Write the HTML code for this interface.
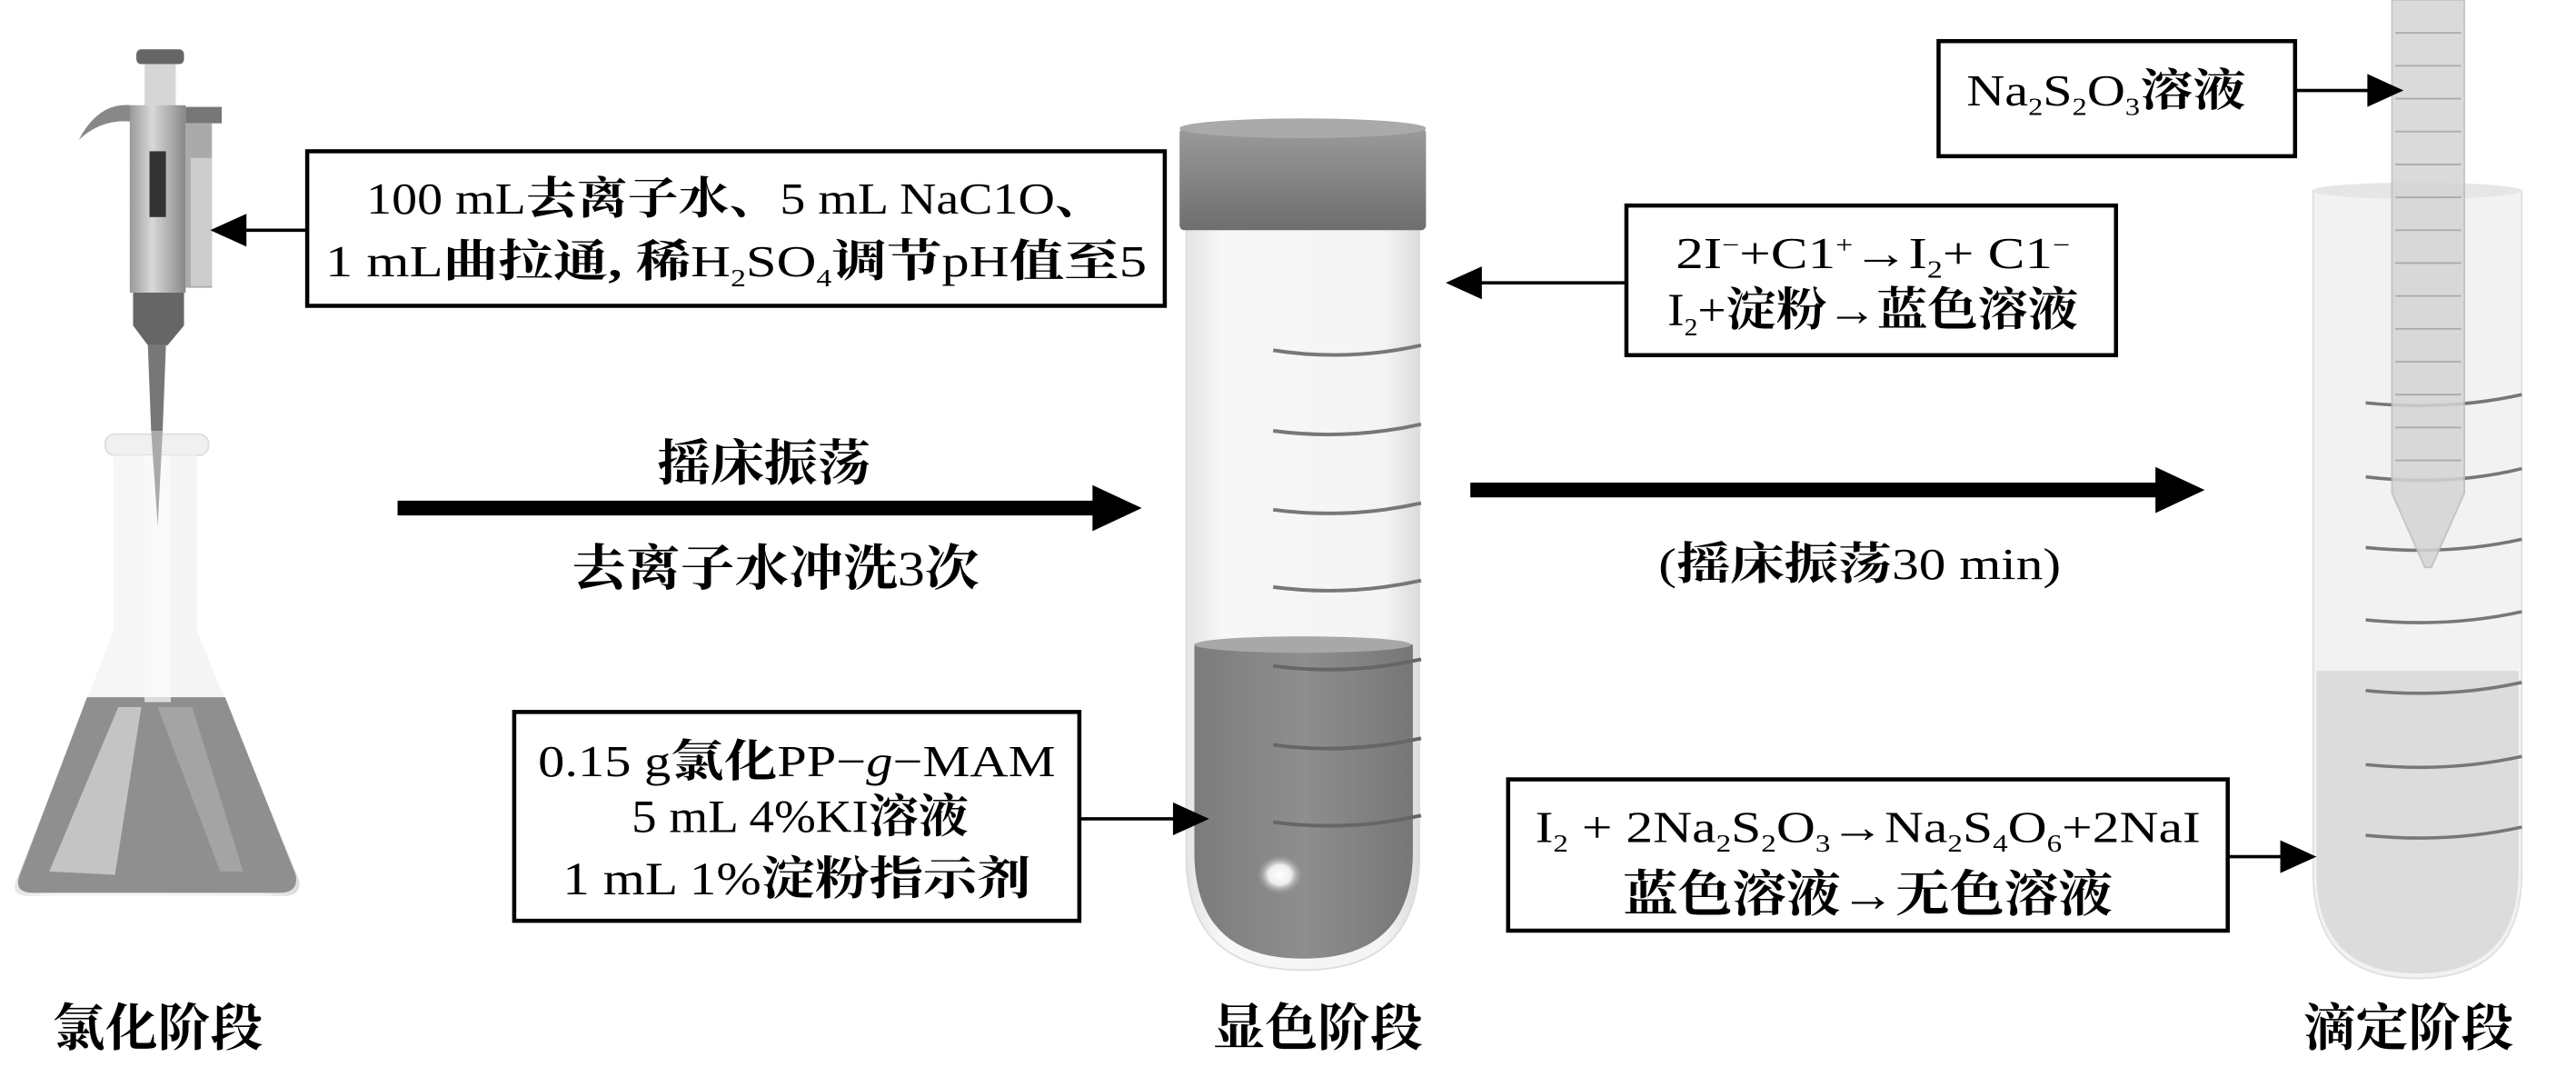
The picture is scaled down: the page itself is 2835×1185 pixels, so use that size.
<!DOCTYPE html>
<html><head><meta charset="utf-8"><style>
html,body{margin:0;padding:0;background:#fff}
svg{display:block}
text{font-family:"Liberation Serif","Noto Serif CJK SC","Noto Sans CJK SC",serif;fill:#000}
.c{font-weight:bold}
</style></head><body>
<svg width="2835" height="1185" viewBox="0 0 1568 655" preserveAspectRatio="none" xmlns="http://www.w3.org/2000/svg">
<defs>
<linearGradient id="glass" x1="0" x2="1" y1="0" y2="0">
<stop offset="0" stop-color="#e4e4e4"/><stop offset="0.15" stop-color="#f7f7f7"/><stop offset="0.85" stop-color="#f4f4f4"/><stop offset="1" stop-color="#dcdcdc"/></linearGradient>
<linearGradient id="cap" x1="0" x2="0" y1="0" y2="1">
<stop offset="0" stop-color="#9a9a9a"/><stop offset="1" stop-color="#6e6e6e"/></linearGradient>
<linearGradient id="liq" x1="0" x2="1"><stop offset="0" stop-color="#7c7c7c"/><stop offset="0.5" stop-color="#8e8e8e"/><stop offset="1" stop-color="#777"/></linearGradient>
<radialGradient id="hl" cx="0.5" cy="0.5" r="0.5"><stop offset="0" stop-color="#fff"/><stop offset="0.5" stop-color="#eee"/><stop offset="1" stop-color="#999" stop-opacity="0"/></radialGradient>
<linearGradient id="pip" x1="0" x2="1"><stop offset="0" stop-color="#999"/><stop offset="0.4" stop-color="#d8d8d8"/><stop offset="1" stop-color="#888"/></linearGradient>
</defs>

<!-- Pipette -->
<rect x="83" y="30" width="29" height="9" rx="3" fill="#666"/>
<rect x="88" y="39" width="19" height="26" fill="#d6d6d6"/>
<path d="M48 85 Q60 62 80 64 L80 74 Q62 72 48 85Z" fill="#888"/>
<rect x="79" y="64" width="34" height="114" fill="url(#pip)"/>
<rect x="113" y="65" width="22" height="10" fill="#777"/>
<rect x="113" y="75" width="16" height="100" fill="#aaa"/>
<rect x="116" y="96" width="13" height="78" fill="#ccc"/>
<rect x="91" y="92" width="10" height="40" fill="#333"/>
<path d="M81 178 L112 178 L112 198 L102 210 L90 210 L81 198Z" fill="#666"/>
<path d="M90 210 L101 210 L99 262 L92 262Z" fill="#777"/>

<!-- Flask -->
<rect x="64" y="264" width="63" height="13" rx="6" fill="#f0f0f0" stroke="#ddd"/>
<path d="M69 277 L120 277 L120 384 L182 535 Q184 545 172 545 L18 545 Q6 545 10 535 L69 384Z" fill="url(#glass)"/>
<path d="M53 424 L137 424 L180 532 Q182 543 170 543 L20 543 Q8 543 12 532Z" fill="#8f8f8f"/>
<path d="M30 530 L72 430 L86 430 L70 532Z" fill="#c4c4c4"/>
<path d="M96 430 L117 430 L148 530 L134 530Z" fill="#a4a4a4"/>
<rect x="88" y="277" width="16" height="150" fill="#fbfbfb" opacity="0.7"/>
<path d="M92 262 L99 262 L96 320Z" fill="#aaa"/>

<!-- Tube 1 -->
<path d="M722 135 L864 135 L864 520 Q864 590 793 590 Q722 590 722 520Z" fill="url(#glass)" stroke="#ddd"/>
<path d="M727 392 L860 392 L860 518 Q860 583 793 583 Q727 583 727 518Z" fill="url(#liq)"/>
<ellipse cx="793" cy="392" rx="66" ry="5" fill="#a8a8a8"/>
<ellipse cx="779" cy="532" rx="14" ry="12" fill="url(#hl)"/>
<g stroke="#777" stroke-width="2.2" fill="none">
<path d="M775 213 Q820 220 865 210"/><path d="M775 262 Q820 268 865 258"/><path d="M775 310 Q820 316 865 306"/><path d="M775 357 Q820 363 865 353"/>
<path d="M775 405 Q820 411 865 401" stroke="#666"/><path d="M775 453 Q820 459 865 449" stroke="#666"/><path d="M775 500 Q820 506 865 496" stroke="#666"/>
</g>
<rect x="718" y="78" width="150" height="62" rx="3" fill="url(#cap)"/>
<ellipse cx="793" cy="78" rx="75" ry="6" fill="#aaa"/>

<!-- Tube 3 -->
<path d="M1408 116 L1535 116 L1535 530 Q1535 595 1471 595 Q1408 595 1408 530Z" fill="#f2f2f2" stroke="#e0e0e0"/>
<path d="M1410 408 L1533 408 L1533 530 Q1533 592 1471 592 Q1410 592 1410 530Z" fill="#dcdcdc"/>
<ellipse cx="1471" cy="116" rx="64" ry="5" fill="#e6e6e6"/>
<g stroke="#777" stroke-width="2" fill="none">
<path d="M1440 245 Q1490 250 1535 240"/><path d="M1440 290 Q1490 296 1535 285"/><path d="M1440 333 Q1490 338 1535 328"/><path d="M1440 377 Q1490 382 1535 372"/>
<path d="M1440 420 Q1490 425 1535 415"/><path d="M1440 465 Q1490 470 1535 460"/><path d="M1440 508 Q1490 513 1535 503"/>
</g>
<path d="M1456 0 L1500 0 L1500 300 L1480 345 L1476 345 L1456 300Z" fill="#d4d4d4" opacity="0.85" stroke="#bbb"/>
<g stroke="#aaa" stroke-width="1">
<line x1="1458" y1="20" x2="1498" y2="20"/><line x1="1458" y1="40" x2="1498" y2="40"/><line x1="1458" y1="60" x2="1498" y2="60"/><line x1="1458" y1="80" x2="1498" y2="80"/><line x1="1458" y1="100" x2="1498" y2="100"/><line x1="1458" y1="120" x2="1498" y2="120"/><line x1="1458" y1="140" x2="1498" y2="140"/><line x1="1458" y1="160" x2="1498" y2="160"/><line x1="1458" y1="180" x2="1498" y2="180"/><line x1="1458" y1="200" x2="1498" y2="200"/><line x1="1458" y1="220" x2="1498" y2="220"/><line x1="1458" y1="240" x2="1498" y2="240"/><line x1="1458" y1="260" x2="1498" y2="260"/><line x1="1458" y1="280" x2="1498" y2="280"/>
</g>

<!-- Box 1 -->
<rect x="187" y="92" width="522" height="94" fill="#fff" stroke="#000" stroke-width="2.5"/>
<text x="448" y="130" font-size="27" text-anchor="middle" textLength="450" lengthAdjust="spacingAndGlyphs">100 mL<tspan class="c">去离子水、</tspan>5 mL NaC1O<tspan class="c">、</tspan></text>
<text x="448" y="168" font-size="27" text-anchor="middle" textLength="500" lengthAdjust="spacingAndGlyphs">1 mL<tspan class="c">曲拉通, 稀</tspan>H<tspan font-size="15" dy="6">2</tspan><tspan dy="-6">SO</tspan><tspan font-size="15" dy="6">4</tspan><tspan dy="-6" class="c">调节</tspan>pH<tspan class="c">值至</tspan>5</text>
<line x1="187" y1="140" x2="148" y2="140" stroke="#000" stroke-width="2"/>
<path d="M128 140 L150 130 L150 150Z" fill="#000"/>

<!-- Arrow 1 -->
<line x1="242" y1="309" x2="670" y2="309" stroke="#000" stroke-width="9"/>
<path d="M695 309 L665 295 L665 323Z" fill="#000"/>
<text x="465" y="292" font-size="30" text-anchor="middle" class="c" textLength="130" lengthAdjust="spacingAndGlyphs">摇床振荡</text>
<text x="472" y="356" font-size="30" text-anchor="middle" textLength="248" lengthAdjust="spacingAndGlyphs"><tspan class="c">去离子水冲洗</tspan>3<tspan class="c">次</tspan></text>

<!-- Box 2 -->
<rect x="990" y="125" width="298" height="91" fill="#fff" stroke="#000" stroke-width="2.5"/>
<text x="1140" y="163" font-size="27" text-anchor="middle" textLength="240" lengthAdjust="spacingAndGlyphs">2I<tspan font-size="15" dy="-9">−</tspan><tspan dy="9">+C1</tspan><tspan font-size="15" dy="-9">+</tspan><tspan dy="9">→I</tspan><tspan font-size="15" dy="6">2</tspan><tspan dy="-6">+ C1</tspan><tspan font-size="15" dy="-9">−</tspan></text>
<text x="1140" y="198" font-size="28" text-anchor="middle" textLength="250" lengthAdjust="spacingAndGlyphs">I<tspan font-size="15" dy="6">2</tspan><tspan dy="-6">+</tspan><tspan class="c">淀粉→蓝色溶液</tspan></text>
<line x1="990" y1="172" x2="898" y2="172" stroke="#000" stroke-width="2"/>
<path d="M880 172 L902 162 L902 182Z" fill="#000"/>

<!-- Box 3 -->
<rect x="313" y="433" width="344" height="127" fill="#fff" stroke="#000" stroke-width="2.5"/>
<text x="485" y="472" font-size="27" text-anchor="middle" textLength="315" lengthAdjust="spacingAndGlyphs">0.15 g<tspan class="c">氯化</tspan>PP−<tspan font-style="italic">g</tspan>−MAM</text>
<text x="487" y="506" font-size="28" text-anchor="middle" textLength="205" lengthAdjust="spacingAndGlyphs">5 mL 4%KI<tspan class="c">溶液</tspan></text>
<text x="485" y="544" font-size="28" text-anchor="middle" textLength="285" lengthAdjust="spacingAndGlyphs">1 mL 1%<tspan class="c">淀粉指示剂</tspan></text>
<line x1="657" y1="498" x2="718" y2="498" stroke="#000" stroke-width="2"/>
<path d="M736 498 L714 488 L714 508Z" fill="#000"/>

<!-- Arrow 2 -->
<line x1="895" y1="298" x2="1315" y2="298" stroke="#000" stroke-width="9"/>
<path d="M1342 298 L1312 284 L1312 312Z" fill="#000"/>
<text x="1132" y="352" font-size="27" text-anchor="middle" textLength="245" lengthAdjust="spacingAndGlyphs">(<tspan class="c">摇床振荡</tspan>30 min)</text>

<!-- Box Na2S2O3 -->
<rect x="1180" y="25" width="217" height="70" fill="#fff" stroke="#000" stroke-width="2.5"/>
<text x="1282" y="64" font-size="27" text-anchor="middle" textLength="170" lengthAdjust="spacingAndGlyphs">Na<tspan font-size="15" dy="6">2</tspan><tspan dy="-6">S</tspan><tspan font-size="15" dy="6">2</tspan><tspan dy="-6">O</tspan><tspan font-size="15" dy="6">3</tspan><tspan dy="-6" class="c">溶液</tspan></text>
<line x1="1397" y1="55" x2="1445" y2="55" stroke="#000" stroke-width="2"/>
<path d="M1463 55 L1441 45 L1441 65Z" fill="#000"/>

<!-- Box 4 -->
<rect x="918" y="474" width="438" height="92" fill="#fff" stroke="#000" stroke-width="2.5"/>
<text x="1137" y="512" font-size="27" text-anchor="middle" textLength="405" lengthAdjust="spacingAndGlyphs">I<tspan font-size="15" dy="6">2</tspan><tspan dy="-6"> + 2Na</tspan><tspan font-size="15" dy="6">2</tspan><tspan dy="-6">S</tspan><tspan font-size="15" dy="6">2</tspan><tspan dy="-6">O</tspan><tspan font-size="15" dy="6">3</tspan><tspan dy="-6">→Na</tspan><tspan font-size="15" dy="6">2</tspan><tspan dy="-6">S</tspan><tspan font-size="15" dy="6">4</tspan><tspan dy="-6">O</tspan><tspan font-size="15" dy="6">6</tspan><tspan dy="-6">+2NaI</tspan></text>
<text x="1137" y="554" font-size="30" text-anchor="middle" class="c" textLength="298" lengthAdjust="spacingAndGlyphs">蓝色溶液→无色溶液</text>
<line x1="1356" y1="521" x2="1392" y2="521" stroke="#000" stroke-width="2"/>
<path d="M1410 521 L1388 511 L1388 531Z" fill="#000"/>

<!-- Stage labels -->
<text x="32" y="636" font-size="31" class="c" textLength="128" lengthAdjust="spacingAndGlyphs">氯化阶段</text>
<text x="738" y="636" font-size="31" class="c" textLength="128" lengthAdjust="spacingAndGlyphs">显色阶段</text>
<text x="1402" y="636" font-size="31" class="c" textLength="128" lengthAdjust="spacingAndGlyphs">滴定阶段</text>
</svg>
</body></html>
